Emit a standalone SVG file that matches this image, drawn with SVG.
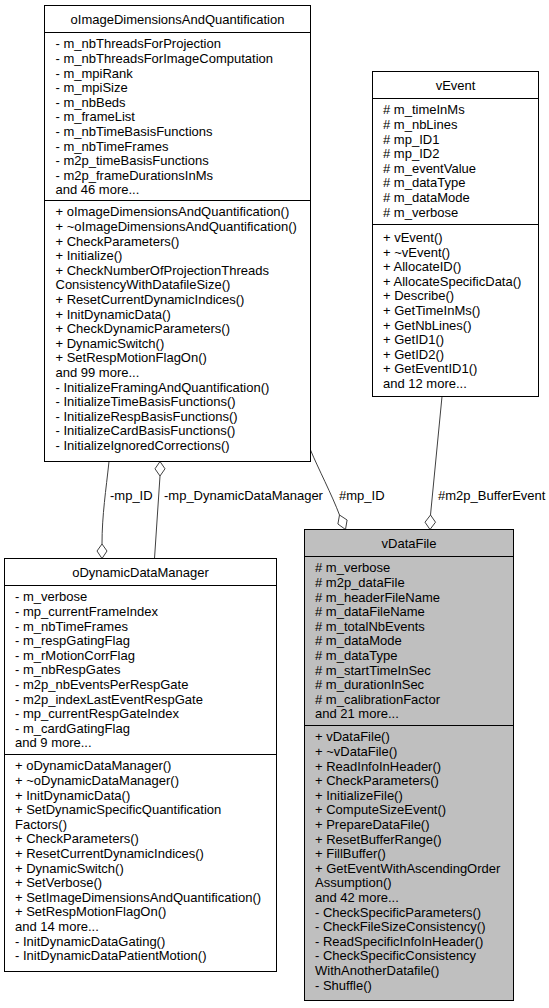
<svg xmlns="http://www.w3.org/2000/svg" width="549" height="1008" viewBox="0 0 549 1008">
<style>
.box{fill:#ffffff;stroke:#000000;stroke-width:1}
.gbox{fill:#bfbfbf;stroke:#000000;stroke-width:1}
.sep{stroke:#000000;stroke-width:1}
text{font-family:"Liberation Sans",Arial,Helvetica,sans-serif;font-size:13px;fill:#000000}
.ttl{text-anchor:middle}
.edge{fill:none;stroke:#404040;stroke-width:1}
.dia{fill:#ffffff;stroke:#404040;stroke-width:1}
</style>
<rect width="549" height="1008" fill="#ffffff"/>
<g id="connectors">
<path class="edge" d="M109,461.5 C106,490 102,515 102,544"/>
<polygon class="dia" points="102,544 107,551 102,558.5 97,551"/>
<text x="110" y="499.5">-mp_ID</text>
<path class="edge" d="M160,476 L154.5,558.5"/>
<polygon class="dia" points="160,461.5 165,468.8 160,476 155,468.8"/>
<text x="164" y="499.5">-mp_DynamicDataManager</text>
<path class="edge" d="M310.5,450 C318,468 332,495 339.5,515"/>
<polygon class="dia" points="339.5,515 347.1,520 345.5,529.5 337.9,524"/>
<text x="339" y="499.5">#mp_ID</text>
<path class="edge" d="M442,396.5 L430.5,515"/>
<polygon class="dia" points="430.5,515 435.5,522.2 430,529.5 425,522.2"/>
<text x="438" y="499.5">#m2p_BufferEvent</text>
</g>
<g id="oImageDimensionsAndQuantification">
<rect class="box" x="44.5" y="5.5" width="266" height="456"/>
<line class="sep" x1="44.5" y1="32.5" x2="310.5" y2="32.5"/>
<line class="sep" x1="44.5" y1="200.5" x2="310.5" y2="200.5"/>
<text class="ttl" x="177.5" y="23.5">oImageDimensionsAndQuantification</text>
<text x="55.5" y="48.3"><tspan x="55.5" dy="0">- m_nbThreadsForProjection</tspan><tspan x="55.5" dy="14.6">- m_nbThreadsForImageComputation</tspan><tspan x="55.5" dy="14.6">- m_mpiRank</tspan><tspan x="55.5" dy="14.6">- m_mpiSize</tspan><tspan x="55.5" dy="14.6">- m_nbBeds</tspan><tspan x="55.5" dy="14.6">- m_frameList</tspan><tspan x="55.5" dy="14.6">- m_nbTimeBasisFunctions</tspan><tspan x="55.5" dy="14.6">- m_nbTimeFrames</tspan><tspan x="55.5" dy="14.6">- m2p_timeBasisFunctions</tspan><tspan x="55.5" dy="14.6">- m2p_frameDurationsInMs</tspan><tspan x="55.5" dy="14.6">and 46 more...</tspan></text>
<text x="55.5" y="216.3"><tspan x="55.5" dy="0">+ oImageDimensionsAndQuantification()</tspan><tspan x="55.5" dy="14.6">+ ~oImageDimensionsAndQuantification()</tspan><tspan x="55.5" dy="14.6">+ CheckParameters()</tspan><tspan x="55.5" dy="14.6">+ Initialize()</tspan><tspan x="55.5" dy="14.6">+ CheckNumberOfProjectionThreads</tspan><tspan x="55.5" dy="14.6">ConsistencyWithDatafileSize()</tspan><tspan x="55.5" dy="14.6">+ ResetCurrentDynamicIndices()</tspan><tspan x="55.5" dy="14.6">+ InitDynamicData()</tspan><tspan x="55.5" dy="14.6">+ CheckDynamicParameters()</tspan><tspan x="55.5" dy="14.6">+ DynamicSwitch()</tspan><tspan x="55.5" dy="14.6">+ SetRespMotionFlagOn()</tspan><tspan x="55.5" dy="14.6">and 99 more...</tspan><tspan x="55.5" dy="14.6">- InitializeFramingAndQuantification()</tspan><tspan x="55.5" dy="14.6">- InitializeTimeBasisFunctions()</tspan><tspan x="55.5" dy="14.6">- InitializeRespBasisFunctions()</tspan><tspan x="55.5" dy="14.6">- InitializeCardBasisFunctions()</tspan><tspan x="55.5" dy="14.6">- InitializeIgnoredCorrections()</tspan></text>
</g>
<g id="vEvent">
<rect class="box" x="372.5" y="71.5" width="166" height="325"/>
<line class="sep" x1="372.5" y1="98.5" x2="538.5" y2="98.5"/>
<line class="sep" x1="372.5" y1="224.5" x2="538.5" y2="224.5"/>
<text class="ttl" x="455.5" y="89.5">vEvent</text>
<text x="383" y="114.3"><tspan x="383" dy="0"># m_timeInMs</tspan><tspan x="383" dy="14.6"># m_nbLines</tspan><tspan x="383" dy="14.6"># mp_ID1</tspan><tspan x="383" dy="14.6"># mp_ID2</tspan><tspan x="383" dy="14.6"># m_eventValue</tspan><tspan x="383" dy="14.6"># m_dataType</tspan><tspan x="383" dy="14.6"># m_dataMode</tspan><tspan x="383" dy="14.6"># m_verbose</tspan></text>
<text x="383" y="242"><tspan x="383" dy="0">+ vEvent()</tspan><tspan x="383" dy="14.6">+ ~vEvent()</tspan><tspan x="383" dy="14.6">+ AllocateID()</tspan><tspan x="383" dy="14.6">+ AllocateSpecificData()</tspan><tspan x="383" dy="14.6">+ Describe()</tspan><tspan x="383" dy="14.6">+ GetTimeInMs()</tspan><tspan x="383" dy="14.6">+ GetNbLines()</tspan><tspan x="383" dy="14.6">+ GetID1()</tspan><tspan x="383" dy="14.6">+ GetID2()</tspan><tspan x="383" dy="14.6">+ GetEventID1()</tspan><tspan x="383" dy="14.6">and 12 more...</tspan></text>
</g>
<g id="oDynamicDataManager">
<rect class="box" x="4.5" y="558.5" width="272" height="413"/>
<line class="sep" x1="4.5" y1="585.5" x2="276.5" y2="585.5"/>
<line class="sep" x1="4.5" y1="754.5" x2="276.5" y2="754.5"/>
<text class="ttl" x="140.5" y="576.5">oDynamicDataManager</text>
<text x="15" y="601.3"><tspan x="15" dy="0">- m_verbose</tspan><tspan x="15" dy="14.6">- mp_currentFrameIndex</tspan><tspan x="15" dy="14.6">- m_nbTimeFrames</tspan><tspan x="15" dy="14.6">- m_respGatingFlag</tspan><tspan x="15" dy="14.6">- m_rMotionCorrFlag</tspan><tspan x="15" dy="14.6">- m_nbRespGates</tspan><tspan x="15" dy="14.6">- m2p_nbEventsPerRespGate</tspan><tspan x="15" dy="14.6">- m2p_indexLastEventRespGate</tspan><tspan x="15" dy="14.6">- mp_currentRespGateIndex</tspan><tspan x="15" dy="14.6">- m_cardGatingFlag</tspan><tspan x="15" dy="14.6">and 9 more...</tspan></text>
<text x="15" y="770.3"><tspan x="15" dy="0">+ oDynamicDataManager()</tspan><tspan x="15" dy="14.6">+ ~oDynamicDataManager()</tspan><tspan x="15" dy="14.6">+ InitDynamicData()</tspan><tspan x="15" dy="14.6">+ SetDynamicSpecificQuantification</tspan><tspan x="15" dy="14.6">Factors()</tspan><tspan x="15" dy="14.6">+ CheckParameters()</tspan><tspan x="15" dy="14.6">+ ResetCurrentDynamicIndices()</tspan><tspan x="15" dy="14.6">+ DynamicSwitch()</tspan><tspan x="15" dy="14.6">+ SetVerbose()</tspan><tspan x="15" dy="14.6">+ SetImageDimensionsAndQuantification()</tspan><tspan x="15" dy="14.6">+ SetRespMotionFlagOn()</tspan><tspan x="15" dy="14.6">and 14 more...</tspan><tspan x="15" dy="14.6">- InitDynamicDataGating()</tspan><tspan x="15" dy="14.6">- InitDynamicDataPatientMotion()</tspan></text>
</g>
<g id="vDataFile">
<rect class="gbox" x="304.5" y="529.5" width="209" height="471"/>
<line class="sep" x1="304.5" y1="556.5" x2="513.5" y2="556.5"/>
<line class="sep" x1="304.5" y1="725.5" x2="513.5" y2="725.5"/>
<text class="ttl" x="409" y="547.5">vDataFile</text>
<text x="315" y="572.3"><tspan x="315" dy="0"># m_verbose</tspan><tspan x="315" dy="14.6"># m2p_dataFile</tspan><tspan x="315" dy="14.6"># m_headerFileName</tspan><tspan x="315" dy="14.6"># m_dataFileName</tspan><tspan x="315" dy="14.6"># m_totalNbEvents</tspan><tspan x="315" dy="14.6"># m_dataMode</tspan><tspan x="315" dy="14.6"># m_dataType</tspan><tspan x="315" dy="14.6"># m_startTimeInSec</tspan><tspan x="315" dy="14.6"># m_durationInSec</tspan><tspan x="315" dy="14.6"># m_calibrationFactor</tspan><tspan x="315" dy="14.6">and 21 more...</tspan></text>
<text x="315" y="741.3"><tspan x="315" dy="0">+ vDataFile()</tspan><tspan x="315" dy="14.6">+ ~vDataFile()</tspan><tspan x="315" dy="14.6">+ ReadInfoInHeader()</tspan><tspan x="315" dy="14.6">+ CheckParameters()</tspan><tspan x="315" dy="14.6">+ InitializeFile()</tspan><tspan x="315" dy="14.6">+ ComputeSizeEvent()</tspan><tspan x="315" dy="14.6">+ PrepareDataFile()</tspan><tspan x="315" dy="14.6">+ ResetBufferRange()</tspan><tspan x="315" dy="14.6">+ FillBuffer()</tspan><tspan x="315" dy="14.6">+ GetEventWithAscendingOrder</tspan><tspan x="315" dy="14.6">Assumption()</tspan><tspan x="315" dy="14.6">and 42 more...</tspan><tspan x="315" dy="14.6">- CheckSpecificParameters()</tspan><tspan x="315" dy="14.6">- CheckFileSizeConsistency()</tspan><tspan x="315" dy="14.6">- ReadSpecificInfoInHeader()</tspan><tspan x="315" dy="14.6">- CheckSpecificConsistency</tspan><tspan x="315" dy="14.6">WithAnotherDatafile()</tspan><tspan x="315" dy="14.6">- Shuffle()</tspan></text>
</g>
</svg>
